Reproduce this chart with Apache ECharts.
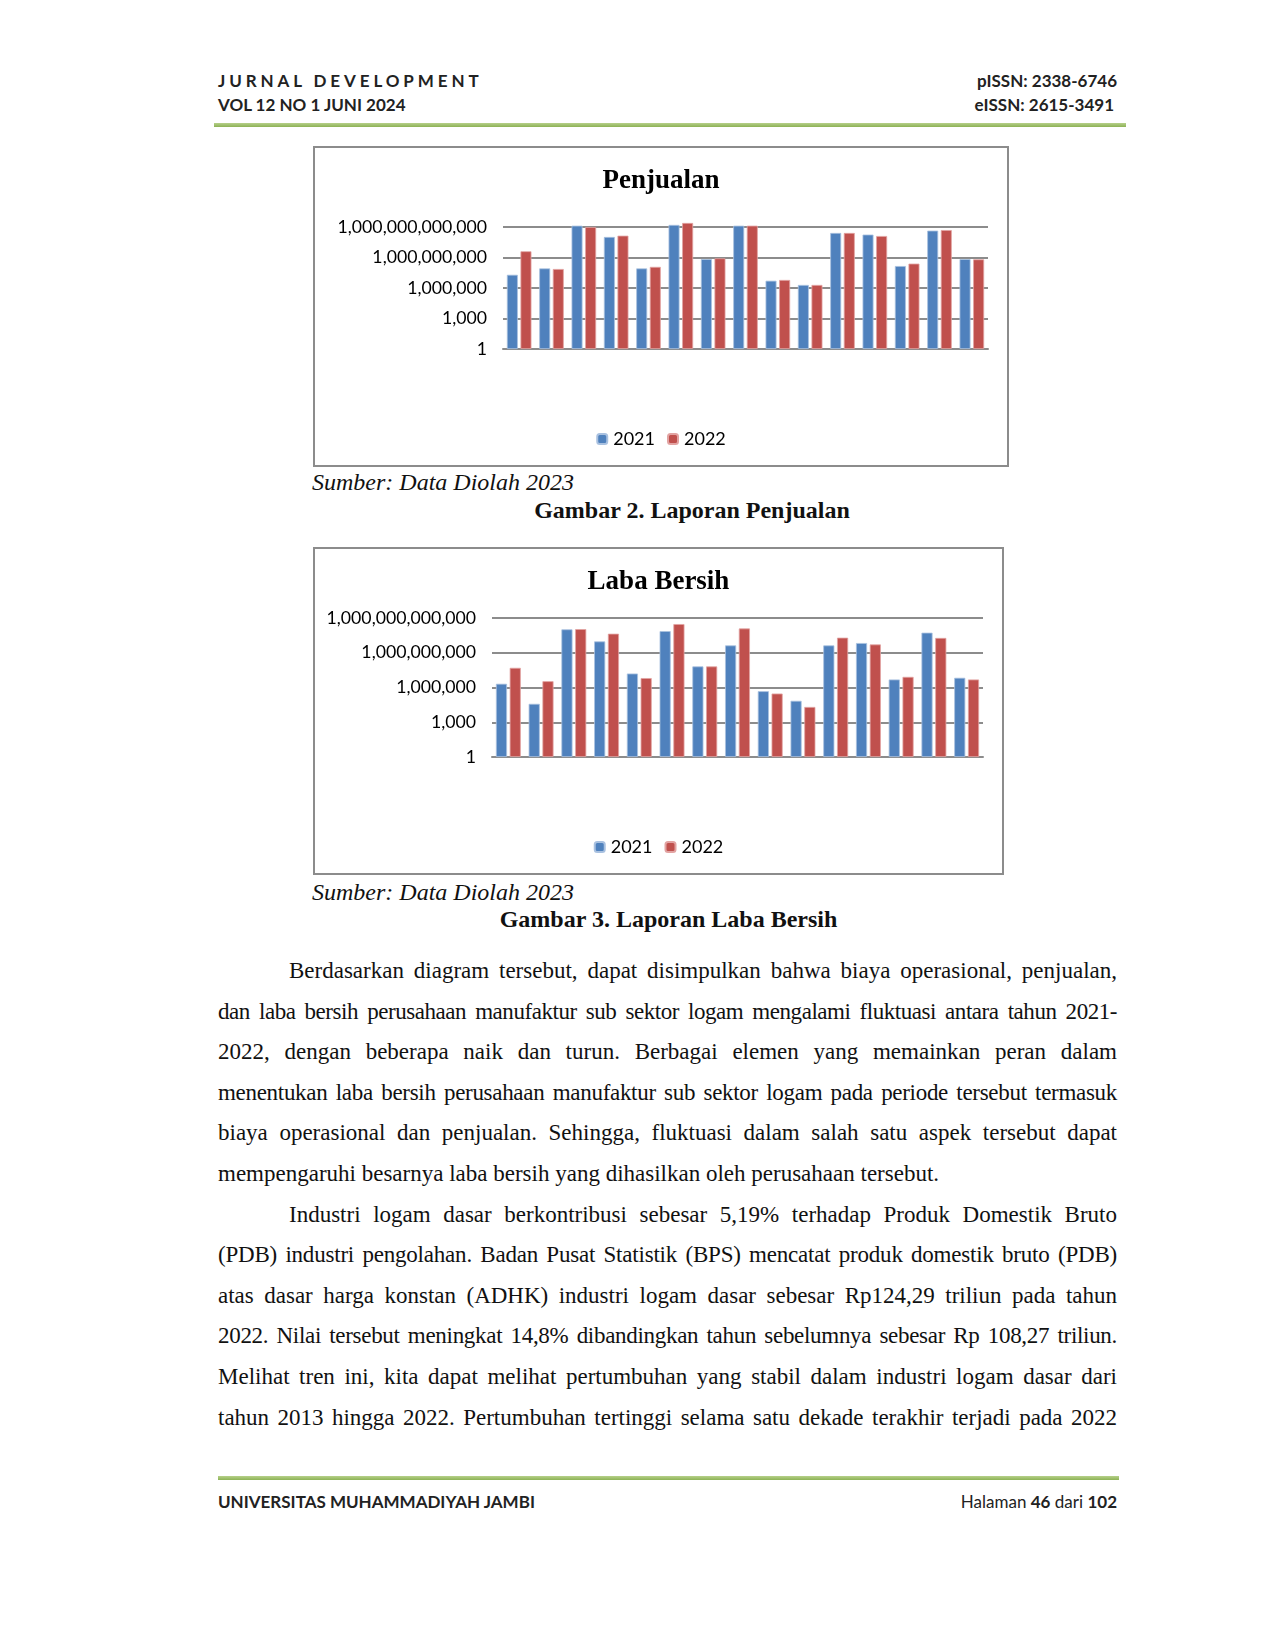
<!DOCTYPE html>
<html>
<head>
    <meta charset="utf-8">
    <title>Jurnal Development - Penjualan dan Laba Bersih</title>
    <script src="https://cdn.jsdelivr.net/npm/echarts@6/dist/echarts.min.js"></script>
    <style>
        html, body { margin: 0; padding: 0; background: #fff; }
        .page { position: relative; width: 1275px; height: 1650px; }
        .hdr { position: absolute; font-family: Lato, "Noto Sans", sans-serif; font-weight: bold; font-size: 17px; color: #222; }
        .green { position: absolute; height: 4px; background: linear-gradient(#b6d08a, #8db255); }
        .box { position: absolute; border: 2px solid #8c8c8c; box-sizing: border-box; }
        .cap { position: absolute; font-family: "Liberation Serif", serif; font-size: 24px; color: #111; }
        .body { position: absolute; left: 218px; width: 899px; top: 951px; font-family: "Liberation Serif", serif; font-size: 23px; line-height: 40.6px; color: #111; }
        .body div { white-space: nowrap; text-align: justify; text-align-last: justify; }
        .body div.ind { padding-left: 71px; }
        .body div.end { text-align-last: left; }
    </style>
</head>
<body>
<div class="page">
    <!-- kepala halaman -->
    <div class="hdr" style="left:218px; top:70px; letter-spacing:3.9px;">JURNAL DEVELOPMENT</div>
    <div class="hdr" style="left:218px; top:94px;">VOL 12 NO 1 JUNI 2024</div>
    <div class="hdr" style="right:158px; top:70px; text-align:right;">pISSN: 2338-6746</div>
    <div class="hdr" style="right:161px; top:94px; text-align:right;">eISSN: 2615-3491</div>
    <div class="green" style="left:214px; width:912px; top:123px;"></div>

    <!-- grafik penjualan -->
    <div class="box" id="chart1" style="left:313px; top:146px; width:696px; height:321px;"></div>
    <div class="cap" style="left:312px; top:469px; font-style:italic;">Sumber: Data Diolah 2023</div>
    <div class="cap" style="left:0; width:1384px; top:497px; text-align:center; font-weight:bold;">Gambar 2. Laporan Penjualan</div>

    <!-- grafik laba bersih -->
    <div class="box" id="chart2" style="left:313px; top:547px; width:691px; height:328px;"></div>
    <div class="cap" style="left:312px; top:879px; font-style:italic;">Sumber: Data Diolah 2023</div>
    <div class="cap" style="left:0; width:1337px; top:906px; text-align:center; font-weight:bold;">Gambar 3. Laporan Laba Bersih</div>

    <div class="body">
        <div class="ind">Berdasarkan diagram tersebut, dapat disimpulkan bahwa biaya operasional, penjualan,</div>
        <div style="letter-spacing:-0.45px; word-spacing:-2px;">dan laba bersih perusahaan manufaktur sub sektor logam mengalami fluktuasi antara tahun 2021-</div>
        <div>2022, dengan beberapa naik dan turun. Berbagai elemen yang memainkan peran dalam</div>
        <div style="letter-spacing:-0.3px; word-spacing:-1px;">menentukan laba bersih perusahaan manufaktur sub sektor logam pada periode tersebut termasuk</div>
        <div>biaya operasional dan penjualan. Sehingga, fluktuasi dalam salah satu aspek tersebut dapat</div>
        <div class="end">mempengaruhi besarnya laba bersih yang dihasilkan oleh perusahaan tersebut.</div>
        <div class="ind">Industri logam dasar berkontribusi sebesar 5,19% terhadap Produk Domestik Bruto</div>
        <div style="letter-spacing:-0.2px;">(PDB) industri pengolahan. Badan Pusat Statistik (BPS) mencatat produk domestik bruto (PDB)</div>
        <div>atas dasar harga konstan (ADHK) industri logam dasar sebesar Rp124,29 triliun pada tahun</div>
        <div style="letter-spacing:-0.3px; word-spacing:-1px;">2022. Nilai tersebut meningkat 14,8% dibandingkan tahun sebelumnya sebesar Rp 108,27 triliun.</div>
        <div>Melihat tren ini, kita dapat melihat pertumbuhan yang stabil dalam industri logam dasar dari</div>
        <div>tahun 2013 hingga 2022. Pertumbuhan tertinggi selama satu dekade terakhir terjadi pada 2022</div>
    </div>

    <!-- kaki halaman -->
    <div class="green" style="left:218px; width:901px; top:1476px;"></div>
    <div class="hdr" style="left:218px; top:1491px;">UNIVERSITAS MUHAMMADIYAH JAMBI</div>
    <div class="hdr" style="right:158px; top:1491px; font-weight:normal;">Halaman <b>46</b> dari <b>102</b></div>
</div>

<script type="text/javascript">
    // data perusahaan (label kategori tidak ditampilkan di grafik)
    var companies = ['1', '2', '3', '4', '5', '6', '7', '8', '9', '10', '11', '12', '13', '14', '15'];
    var years = ['2021', '2022'];
    var yTicks = [1, 1e3, 1e6, 1e9, 1e12];

    var sales2021 = [2.0e7, 8.5e7, 1.35e12, 1.05e11, 8.5e7, 1.6e12, 7.1e8, 1.35e12, 5.2e6, 2.0e6, 2.6e11, 1.8e11, 1.45e8, 4.4e11, 7.1e8];
    var sales2022 = [4.1e9, 7.4e7, 1.0e12, 1.4e11, 1.2e8, 2.5e12, 8.3e8, 1.35e12, 6.2e6, 2.0e6, 2.6e11, 1.3e11, 2.5e8, 5.0e11, 6.6e8];

    var profit2021 = [2.1e6, 3.9e4, 1.05e11, 9.5e9, 1.6e7, 7.4e10, 6.6e7, 4.3e9, 4.8e5, 7.1e4, 4.3e9, 6.9e9, 4.9e6, 5.4e10, 6.9e6];
    var profit2022 = [5.0e7, 3.5e6, 1.1e11, 4.4e10, 6.5e6, 3.0e11, 6.6e7, 1.25e11, 3.0e5, 2.1e4, 2.0e10, 5.2e9, 8.3e6, 1.9e10, 4.9e6];

    var blue = '#4f81bd';
    var red = '#c0504d';

    function makeOption(title, d1, d2, grid) {
        return {
            animation: false,
            title: {
                text: title,
                left: 'center',
                top: 15,
                textStyle: { fontFamily: 'Liberation Serif', fontWeight: 'bold', fontSize: 27, color: '#000' }
            },
            legend: {
                data: years,
                bottom: 12,
                itemWidth: 10,
                itemHeight: 10,
                itemGap: 12,
                textStyle: { fontFamily: 'Lato', fontSize: 18, color: '#000', padding: [0, 0, 0, 1] }
            },
            grid: grid,
            xAxis: {
                type: 'category',
                data: companies,
                axisTick: { show: false },
                axisLabel: { show: false },
                axisLine: { lineStyle: { color: '#8c8c8c', width: 2 } }
            },
            yAxis: {
                type: 'log',
                logBase: 10,
                min: yTicks[0],
                max: yTicks[yTicks.length - 1],
                interval: 3,
                axisLine: { show: false },
                axisTick: { show: false },
                axisLabel: {
                    fontFamily: 'Lato',
                    fontSize: 17.7,
                    color: '#000',
                    margin: 16,
                    formatter: function (v) {
                        return Math.round(v).toLocaleString('en-US');
                    }
                },
                splitLine: { lineStyle: { color: '#8c8c8c', width: 2 } }
            },
            series: [{
                name: years[0],
                type: 'bar',
                data: d1,
                clip: false,
                barGap: '24%',
                barCategoryGap: '24%',
                itemStyle: { color: blue, borderColor: '#a9c1e0', borderWidth: 0.8 }
            }, {
                name: years[1],
                type: 'bar',
                data: d2,
                clip: false,
                itemStyle: { color: red, borderColor: '#e2a3a2', borderWidth: 0.8 }
            }]
        };
    }

    var myChart1 = echarts.init(document.getElementById('chart1'));
    myChart1.setOption(makeOption('Penjualan', sales2021, sales2022,
        { left: 188, right: 19, top: 79, bottom: 116 }));

    var myChart2 = echarts.init(document.getElementById('chart2'));
    myChart2.setOption(makeOption('Laba Bersih', profit2021, profit2022,
        { left: 177, right: 19, top: 69, bottom: 116 }));
</script>
</body>
</html>
